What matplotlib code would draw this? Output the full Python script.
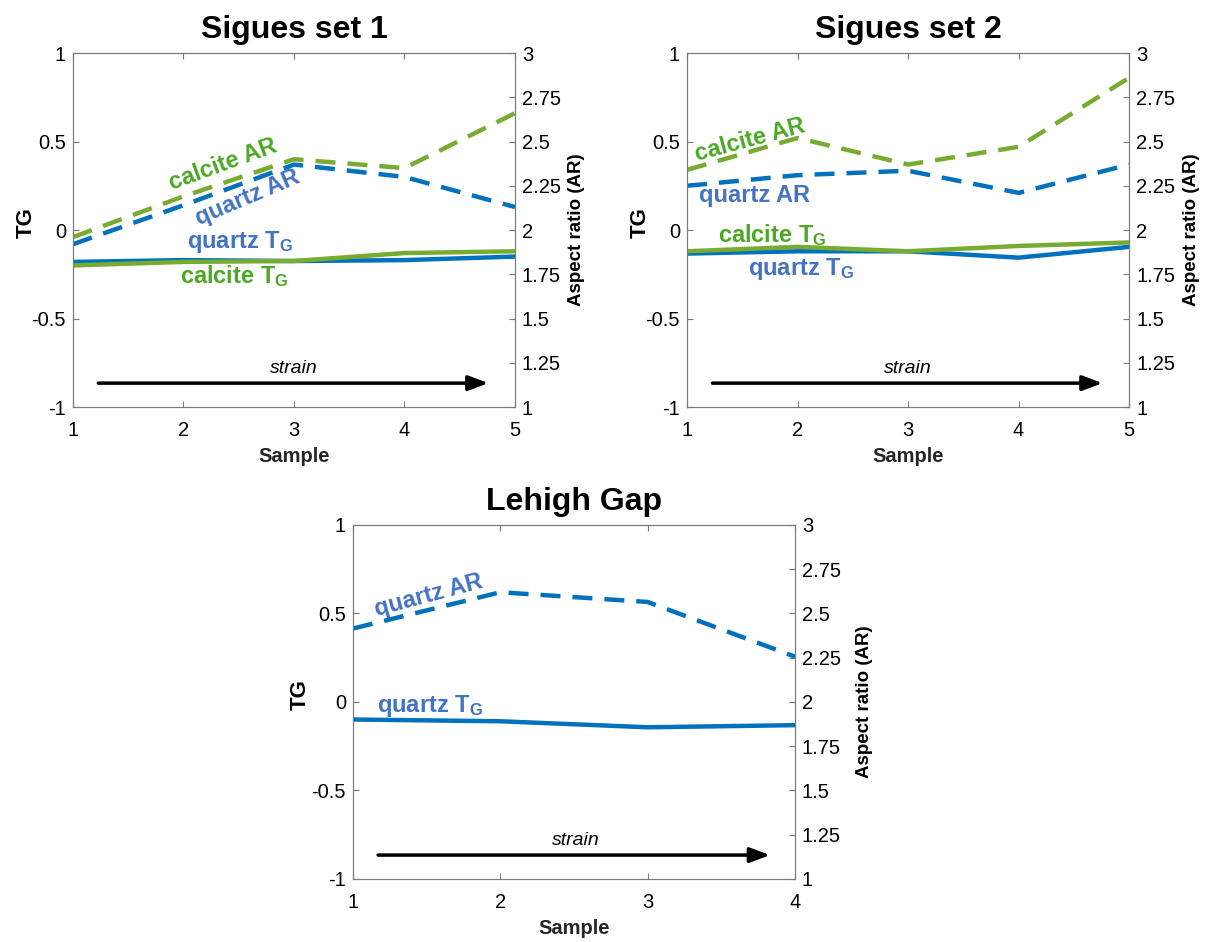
import matplotlib
matplotlib.use("Agg")
import matplotlib.pyplot as plt

plt.rcParams['font.family'] = ['Liberation Sans', 'DejaVu Sans']
plt.rcParams['mathtext.fontset'] = 'custom'
plt.rcParams['mathtext.rm'] = 'Liberation Sans:bold'
plt.rcParams['mathtext.it'] = 'Liberation Sans:bold'
plt.rcParams['mathtext.bf'] = 'Liberation Sans:bold'
plt.rcParams['axes.unicode_minus'] = False

# --- data ---
samples_5 = [1, 2, 3, 4, 5]
samples_4 = [1, 2, 3, 4]

# Sigues set 1
s1_quartz_tg = [-0.18, -0.17, -0.175, -0.17, -0.15]
s1_calcite_tg = [-0.20, -0.18, -0.175, -0.13, -0.12]
s1_quartz_ar = [1.92, 2.14, 2.37, 2.30, 2.13]
s1_calcite_ar = [1.96, 2.19, 2.40, 2.35, 2.66]

# Sigues set 2
s2_quartz_tg = [-0.133, -0.12, -0.12, -0.156, -0.095]
s2_calcite_tg = [-0.12, -0.095, -0.12, -0.09, -0.07]
s2_quartz_ar = [2.25, 2.31, 2.335, 2.21, 2.37]
s2_calcite_ar = [2.34, 2.52, 2.37, 2.47, 2.86]

# Lehigh Gap
lg_quartz_tg = [-0.099, -0.109, -0.143, -0.131]
lg_quartz_ar = [2.415, 2.62, 2.565, 2.256]

tg_ticks = [-1, -0.5, 0, 0.5, 1]
tg_labels = ['-1', '-0.5', '0', '0.5', '1']
ar_ticks = [1, 1.25, 1.5, 1.75, 2, 2.25, 2.5, 2.75, 3]
ar_labels = ['1', '1.25', '1.5', '1.75', '2', '2.25', '2.5', '2.75', '3']

BLUE = '#0072BD'
GREEN = '#77AC30'
BLUE_TXT = '#4472C4'
GREEN_TXT = '#4CA825'
SPINE = '#7a7a7a'
LW = 3.2
DASH = (4.5, 2.7)


def setup(ax, xs, title, ylab_x, ylab2_x):
    ax.set_xlim(xs[0], xs[-1])
    ax.set_ylim(-1, 1)
    ax.set_xticks(xs)
    ax.set_xticklabels([str(x) for x in xs])
    ax.set_yticks(tg_ticks)
    ax.set_yticklabels(tg_labels)
    ax.set_xlabel('Sample', fontsize=14.5, fontweight='bold', color='#262626')
    ax.xaxis.set_label_coords(0.5, -0.113)
    ax.set_ylabel('TG', fontsize=16, fontweight='bold', color='black')
    ax.yaxis.set_label_coords(ylab_x, 0.52)
    ax.set_title(title, fontsize=23, fontweight='bold', pad=11)
    ax.tick_params(direction='in', length=4, labelsize=14.5, top=True, right=False,
                   color=SPINE)
    ax.tick_params(axis='x', pad=10)
    ax.tick_params(axis='y', pad=5)
    for s in ax.spines.values():
        s.set_color(SPINE)
    ax2 = ax.twinx()
    ax2.set_ylim(1, 3)
    ax2.set_yticks(ar_ticks)
    ax2.set_yticklabels(ar_labels)
    ax2.set_ylabel('Aspect ratio (AR)', fontsize=13.5, fontweight='bold')
    ax2.yaxis.set_label_coords(ylab2_x, 0.5)
    ax2.tick_params(direction='in', length=4, labelsize=14.5, color=SPINE, pad=5)
    for s in ax2.spines.values():
        s.set_color(SPINE)
    return ax2


def label(ax, x, y, s, color, rot=0):
    ax.text(x, y, s, color=color, fontsize=17, fontweight='bold', rotation=rot,
            rotation_mode='anchor', ha='center', va='center', zorder=5)


def strain_arrow(ax, x0, x1, xt):
    ax.annotate('', xy=(x1, -0.865), xytext=(x0, -0.865),
                arrowprops=dict(arrowstyle='-|>,head_length=1.2,head_width=0.45',
                                color='black', lw=2.5, shrinkA=0, shrinkB=0))
    ax.text(xt, -0.78, 'strain', fontsize=14, style='italic', ha='center', va='center')


fig = plt.figure(figsize=(12.16, 9.42), dpi=100)

# ---- Sigues set 1 ----
ax = fig.add_axes([0.060, 0.5679, 0.3635, 0.3758])
ax2 = setup(ax, samples_5, 'Sigues set 1', -0.081, 1.12)
ax.plot(samples_5, s1_quartz_tg, color=BLUE, lw=LW, zorder=3)
ax.plot(samples_5, s1_calcite_tg, color=GREEN, lw=LW, zorder=3)
ax2.plot(samples_5, s1_quartz_ar, color=BLUE, lw=LW, dashes=DASH)
ax2.plot(samples_5, s1_calcite_ar, color=GREEN, lw=LW, dashes=DASH)
label(ax, 2.36, 0.37, 'calcite AR', GREEN_TXT, 20)
label(ax, 2.58, 0.18, 'quartz AR', BLUE_TXT, 23)
label(ax, 2.51, -0.065, r'quartz T$_{\rm G}$', BLUE_TXT)
label(ax, 2.46, -0.26, r'calcite T$_{\rm G}$', GREEN_TXT)
strain_arrow(ax, 1.23, 4.76, 3.0)

# ---- Sigues set 2 ----
ax = fig.add_axes([0.565, 0.5679, 0.3635, 0.3758])
ax2 = setup(ax, samples_5, 'Sigues set 2', -0.083, 1.122)
ax.plot(samples_5, s2_quartz_tg, color=BLUE, lw=LW, zorder=3)
ax.plot(samples_5, s2_calcite_tg, color=GREEN, lw=LW, zorder=3)
ax2.plot(samples_5, s2_quartz_ar, color=BLUE, lw=LW, dashes=DASH)
ax2.plot(samples_5, s2_calcite_ar, color=GREEN, lw=LW, dashes=DASH)
label(ax, 1.57, 0.51, 'calcite AR', GREEN_TXT, 15)
label(ax, 1.615, 0.195, 'quartz AR', BLUE_TXT)
label(ax, 1.77, -0.03, r'calcite T$_{\rm G}$', GREEN_TXT)
label(ax, 2.03, -0.22, r'quartz T$_{\rm G}$', BLUE_TXT)
strain_arrow(ax, 1.23, 4.76, 3.0)

# ---- Lehigh Gap ----
ax = fig.add_axes([0.2903, 0.0669, 0.3635, 0.3758])
ax2 = setup(ax, samples_4, 'Lehigh Gap', -0.095, 1.138)
ax.plot(samples_4, lg_quartz_tg, color=BLUE, lw=LW, zorder=3)
ax2.plot(samples_4, lg_quartz_ar, color=BLUE, lw=LW, dashes=DASH)
label(ax, 1.51, 0.60, 'quartz AR', BLUE_TXT, 15)
label(ax, 1.52, -0.025, r'quartz T$_{\rm G}$', BLUE_TXT)
strain_arrow(ax, 1.17, 3.83, 2.51)

fig.savefig('out.png', dpi=100)
